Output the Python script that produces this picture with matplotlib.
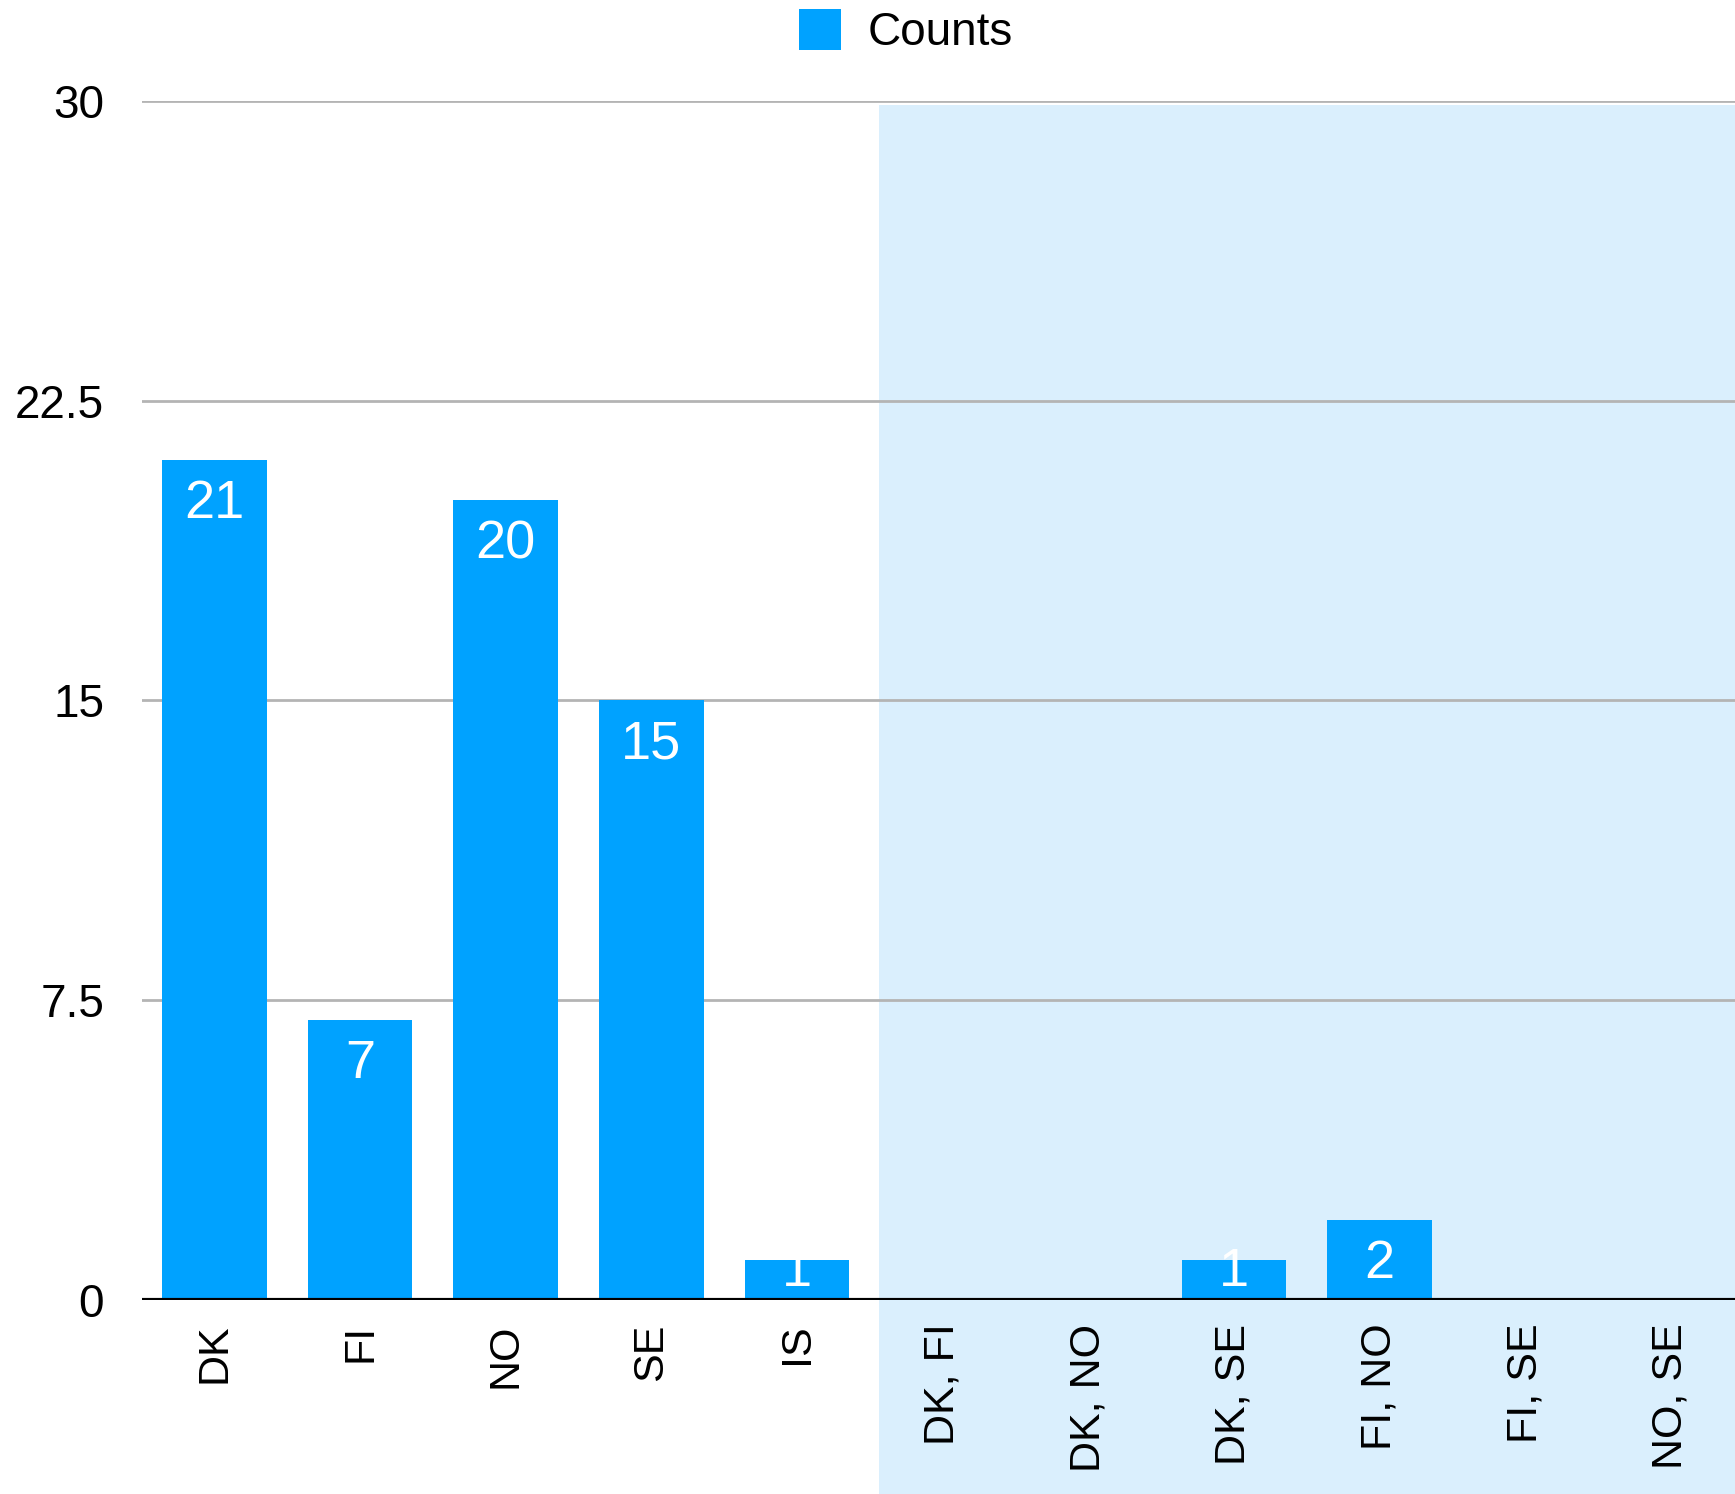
import matplotlib
matplotlib.use("Agg")
import matplotlib.pyplot as plt
from matplotlib.patches import Rectangle

categories = ["DK", "FI", "NO", "SE", "IS", "DK, FI", "DK, NO", "DK, SE", "FI, NO", "FI, SE", "NO, SE"]
counts = [21, 7, 20, 15, 1, 0, 0, 1, 2, 0, 0]
yticks = [0, 7.5, 15, 22.5, 30]
ytick_labels = ["0", "7.5", "15", "22.5", "30"]
series_name = "Counts"

BAR = "#00A2FF"
SHADE = "#DAEFFD"
plt.rcParams["font.family"] = ["Liberation Sans", "DejaVu Sans"]

fig = plt.figure(figsize=(17.35, 14.94), dpi=100)
ax = fig.add_axes([0.0816, 0.1299, 0.9184, 0.8027])
ax.set_xlim(-0.5, 10.44)
ax.set_ylim(0, 30)

# shaded region for pair categories
shade = Rectangle((4.56, -6), 7, 29.89 + 6, facecolor=SHADE, edgecolor="none",
                  zorder=0, clip_on=False)
ax.add_patch(shade)

for y in yticks[1:]:
    ax.axhline(y, color="#b4b4b4", lw=2, zorder=1)
ax.axhline(0, color="black", lw=3, zorder=4)

x = list(range(len(categories)))
bars = ax.bar(x, counts, width=0.72, color=BAR, zorder=3)

for b, v in zip(bars, counts):
    if v <= 0:
        continue
    yb = max(v - 1.45, 0.35)
    t = ax.text(b.get_x() + b.get_width() / 2, yb, str(v), color="white",
                ha="center", va="baseline", fontsize=39, zorder=5)
    t.set_clip_path(b)

ax.set_yticks(yticks)
ax.set_yticklabels(ytick_labels, fontsize=33)
ax.set_xticks(x)
ax.set_xticklabels(categories, rotation=90, fontsize=31, va="top", ha="center")
ax.tick_params(axis="y", length=0, pad=27)
ax.tick_params(axis="x", length=0, pad=17)
for s in ax.spines.values():
    s.set_visible(False)
ax.patch.set_alpha(0)

# legend
fig.patches.append(Rectangle((799 / 1735, 1 - 50 / 1494), 42 / 1735, 41 / 1494,
                             transform=fig.transFigure, facecolor=BAR, edgecolor="none"))
fig.text(868 / 1735, 1 - 33 / 1494, series_name, fontsize=33, va="center", ha="left")

fig.savefig("out.png", dpi=100)
